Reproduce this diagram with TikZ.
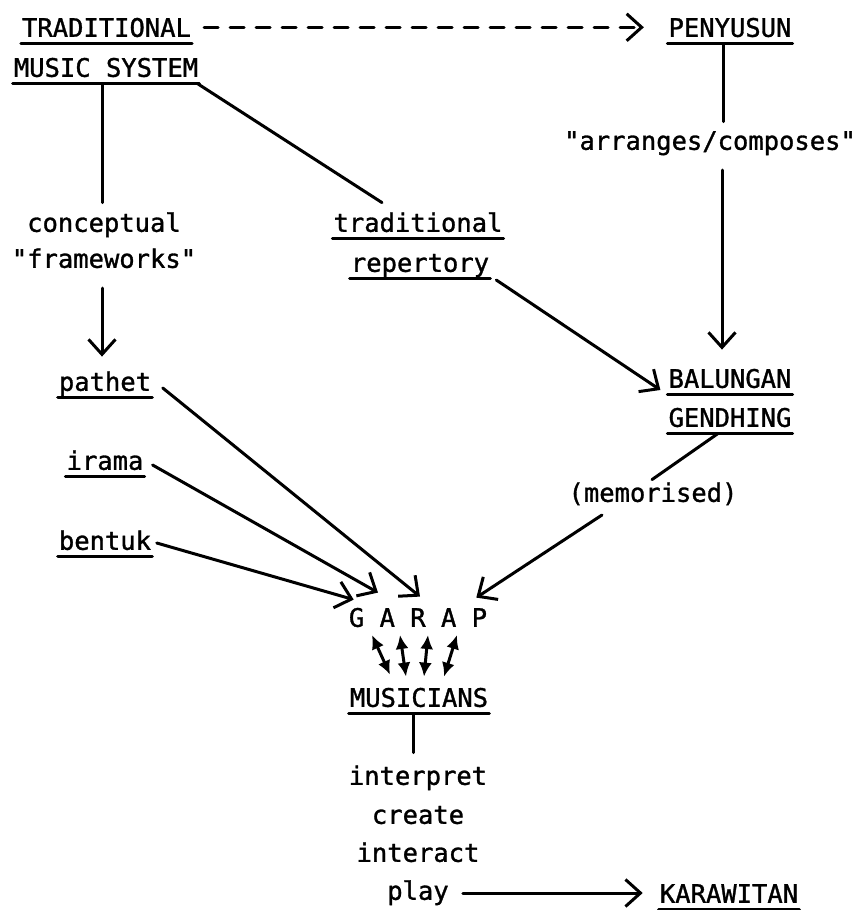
\documentclass[tikz,border=0pt]{standalone}
\usepackage{fontspec}
\usetikzlibrary{arrows.meta}
\newfontfamily\twfont{DejaVu Sans Mono}[FakeBold=1.2]
\tikzset{
  lbl/.style={inner sep=0pt, text height=19pt, text depth=0pt, anchor=south,
    font=\twfont\fontsize{25.5pt}{30pt}\selectfont},
  ln/.style={line width=3pt, line cap=round},
  ularrow/.style={ln, -{Straight Barb[length=15pt,width=27pt,line width=3pt]}},
  dbl/.style={ln, {Latex[length=14pt,width=13pt]}-{Latex[length=14pt,width=13pt]}},
}
\newcommand\ulin[1]{\draw[ln] ([xshift=-1pt,yshift=-6.5pt]#1.south west) -- ([xshift=1pt,yshift=-6.5pt]#1.south east);}
\begin{document}
\begin{tikzpicture}[x=1pt,y=-1pt]
\useasboundingbox[fill=white] (0,0) rectangle (863,910);
% nodes
\node[lbl] (trad) at (106.5,37) {TRADITIONAL};
\node[lbl] (msys) at (106,77) {MUSIC SYSTEM};
\node[lbl] (peny) at (730,37) {PENYUSUN};
\node[lbl] (arr) at (710,150) {"arranges/composes"};
\node[lbl] (concept) at (104,232) {conceptual};
\node[lbl] (frame) at (104,268) {"frameworks"};
\node[lbl] (tradl) at (418,232) {traditional};
\node[lbl] (rep) at (420,272) {repertory};
\node[lbl] (balu) at (730,388) {BALUNGAN};
\node[lbl] (gend) at (730,427) {GENDHING};
\node[lbl] (pathet) at (105,391) {pathet};
\node[lbl] (irama) at (105,470) {irama};
\node[lbl] (bentuk) at (105,550) {bentuk};
\node[lbl] (mem) at (653,502) {(memorised)};
\node[lbl] (garap) at (418,627) {G A R A P};
\node[lbl] (mus) at (419,707) {MUSICIANS};
\node[lbl] (interp) at (418,785) {interpret};
\node[lbl] (create) at (418,824) {create};
\node[lbl] (interact) at (418,862) {interact};
\node[lbl] (play) at (418,900) {play};
\node[lbl] (kara) at (729,903) {KARAWITAN};
% underlines
\ulin{trad}\ulin{msys}\ulin{peny}\ulin{tradl}\ulin{rep}\ulin{balu}\ulin{gend}
\ulin{pathet}\ulin{irama}\ulin{bentuk}\ulin{mus}\ulin{kara}
% connectors
\draw[ularrow, dash pattern=on 14pt off 12pt]
  ([xshift=13pt]trad.east) -- ([xshift=-24.5pt]peny.west);
\draw[ln] ([xshift=-4pt,yshift=-7pt]msys.south) -- ([xshift=-2pt,yshift=10pt]concept.north);
\draw[ln] ([xshift=-1pt,yshift=-6.5pt]msys.south east) -- ([xshift=-36pt,yshift=10pt]tradl.north);
\draw[ularrow] ([xshift=-2pt,yshift=-20pt]frame.south) -- ([xshift=-3pt,yshift=15pt]pathet.north);
\draw[ln] ([xshift=-7pt,yshift=-6.5pt]peny.south) -- ([xshift=13pt,yshift=9pt]arr.north);
\draw[ularrow] ([xshift=12pt,yshift=-20pt]arr.south) -- ([xshift=-8pt,yshift=19pt]balu.north);
\draw[ularrow] ([xshift=7pt,yshift=-8pt]rep.south east) -- ([xshift=-8pt,yshift=-2pt]balu.south west);
\draw[ln] ([xshift=-12pt,yshift=-6.5pt]gend.south) -- ([xshift=-1pt,yshift=3pt]mem.north);
\draw[ularrow] ([xshift=-51pt,yshift=-13pt]mem.south) -- ([xshift=-11pt,yshift=10pt]garap.north east);
\draw[ularrow] ([xshift=11.5pt,yshift=3pt]pathet.south east) -- ([xshift=2pt,yshift=11pt]garap.north);
\draw[ularrow] ([xshift=9pt,yshift=5pt]irama.south east) -- ([xshift=-40pt,yshift=15pt]garap.north);
\draw[ularrow] ([xshift=5.5pt,yshift=7pt]bentuk.south east) -- ([xshift=5pt,yshift=8pt]garap.north west);
\draw[dbl] ([xshift=-46pt,yshift=-8pt]garap.south) -- ([xshift=-29pt,yshift=13pt]mus.north);
\draw[dbl] ([xshift=-18pt,yshift=-8pt]garap.south) -- ([xshift=-13pt,yshift=11pt]mus.north);
\draw[dbl] ([xshift=10pt,yshift=-8pt]garap.south) -- ([xshift=5pt,yshift=11pt]mus.north);
\draw[dbl] ([xshift=39pt,yshift=-8pt]garap.south) -- ([xshift=25pt,yshift=11pt]mus.north);
\draw[ln] ([xshift=-6pt,yshift=-6.5pt]mus.south) -- ([xshift=-5pt,yshift=13pt]interp.north);
\draw[ularrow] ([xshift=14pt,yshift=7pt]play.south east) -- ([xshift=-17pt,yshift=10pt]kara.south west);
\end{tikzpicture}
\end{document}
